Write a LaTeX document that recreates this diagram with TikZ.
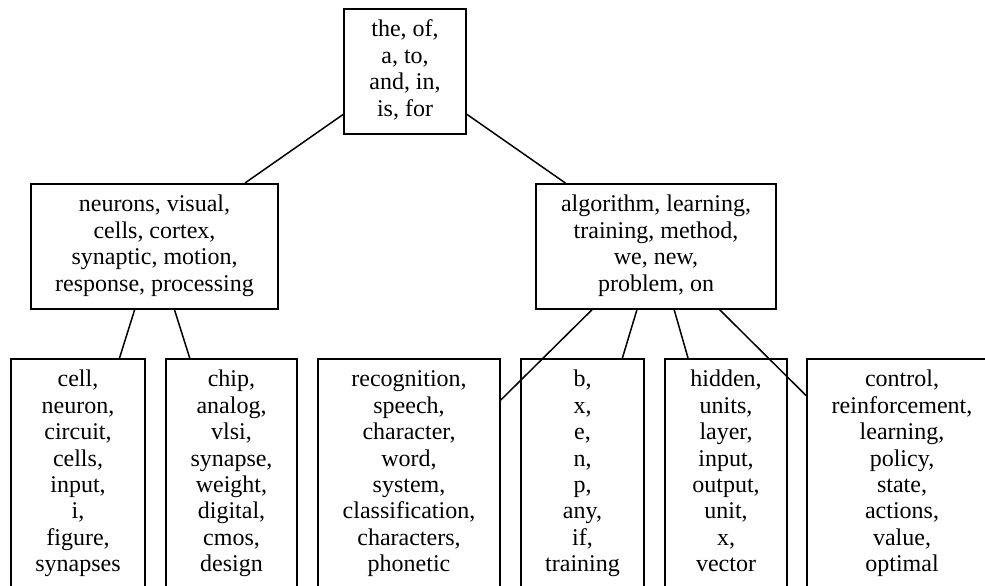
\documentclass[tikz,border=0pt]{standalone}
\usepackage{fontspec}
\setmainfont{Liberation Serif}
\begin{document}
\begin{tikzpicture}[x=1pt,y=-1pt,
    topic/.style={draw,line width=1.6pt,align=center,anchor=north,
        inner xsep=0pt,inner ysep=11pt,
        font=\fontsize{24}{26.4}\selectfont},
    upper/.style={topic,text height=96.2pt,text depth=6.8pt},
    leaf/.style={topic,text height=201.8pt,text depth=40pt},
    link/.style={line width=1.5pt}]
\useasboundingbox (0,0) rectangle (985,586);
\clip (0,0) rectangle (985,586);
\fill[white] (0,0) rectangle (985,586);
% root
\node (top) at (405,8)[upper,minimum width=122pt]{the, of,\\a, to,\\and, in,\\is, for};
% second level
\node (neuro) at (154.5,183)[upper,minimum width=247pt]{neurons, visual,\\cells, cortex,\\synaptic, motion,\\response, processing};
\node (algo) at (656,183)[upper,minimum width=240pt]{algorithm, learning,\\training, method,\\we, new,\\problem, on};
% leaves
\node (cell) at (78,358)[leaf,minimum width=134pt]{cell,\\neuron,\\circuit,\\cells,\\input,\\i,\\figure,\\synapses};
\node (chip) at (231.5,358)[leaf,minimum width=131pt]{chip,\\analog,\\vlsi,\\synapse,\\weight,\\digital,\\cmos,\\design};
\node (speech) at (409,358)[leaf,minimum width=182pt]{recognition,\\speech,\\character,\\word,\\system,\\classification,\\characters,\\phonetic};
\node (letter) at (582.5,358)[leaf,minimum width=123pt]{b,\\x,\\e,\\n,\\p,\\any,\\if,\\training};
\node (hidden) at (726,358)[leaf,minimum width=122pt]{hidden,\\units,\\layer,\\input,\\output,\\unit,\\x,\\vector};
\node (control) at (902,358)[leaf,minimum width=190pt]{control,\\reinforcement,\\learning,\\policy,\\state,\\actions,\\value,\\optimal};
% connectors
\foreach \a/\b in {top/neuro,top/algo,neuro/cell,neuro/chip,algo/speech,algo/letter,algo/hidden,algo/control}
{
    \draw[link](\a)--(\b);
}
\end{tikzpicture}
\end{document}
